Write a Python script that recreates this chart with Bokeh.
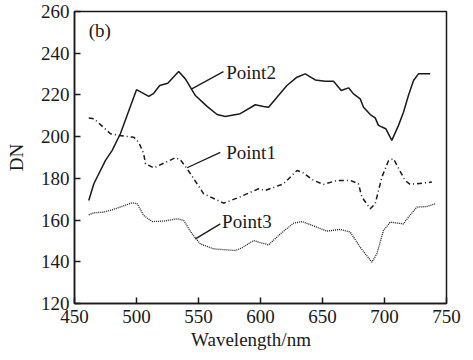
from bokeh.plotting import figure
from bokeh.embed import file_html
from bokeh.resources import INLINE
from bokeh.models import Range1d, FixedTicker
from bokeh.core.properties import value

# Point2 (solid)
p2_x = [461.5, 465.6, 475.0, 480.4, 487.0, 500.0, 509.9, 513.9, 518.7, 525.2, 534.0, 539.4, 547.5,
        556.9, 565.0, 571.6, 583.7, 595.8, 602.5, 606.5, 613.3, 621.3, 629.4, 636.1, 644.1, 652.2,
        658.9, 665.1, 671.0, 675.0, 680.4, 683.1, 688.5, 692.5, 695.1, 701.0, 705.9, 711.3, 715.3,
        719.3, 723.4, 727.4, 736.8]
p2_y = [169.4, 177.4, 188.6, 193.4, 201.4, 222.5, 219.3, 220.8, 224.5, 225.6, 231.2, 227.7, 219.7,
        214.5, 210.6, 209.7, 211.0, 215.3, 214.5, 214.1, 218.9, 224.5, 228.5, 230.1, 227.2, 226.6,
        226.6, 222.1, 223.4, 220.5, 218.1, 214.1, 210.6, 209.0, 205.4, 203.8, 198.2, 205.4, 211.7,
        219.7, 226.9, 230.1, 230.1]

# Point1 (dash-dot)
p1_x = [461.5, 465.6, 479.0, 485.7, 497.8, 501.8, 505.8, 507.2, 513.9, 531.4, 535.4, 540.8, 554.2,
        570.3, 581.0, 598.5, 603.9, 618.6, 629.4, 633.4, 642.8, 650.8, 661.6, 672.4, 679.0, 681.8,
        688.5, 692.5, 697.9, 703.3, 707.2, 716.6, 720.7, 738.2]
p1_y = [208.9, 208.6, 201.4, 200.6, 199.7, 197.3, 191.8, 187.0, 185.0, 189.9, 188.9, 184.6, 172.6,
        168.1, 170.5, 175.0, 174.2, 177.4, 183.8, 183.0, 179.0, 177.1, 179.0, 179.0, 177.4, 171.0,
        165.4, 167.8, 180.6, 188.6, 189.4, 179.0, 177.1, 178.2]

# Point3 (dotted)
p3_x = [461.5, 465.5, 473.6, 483.0, 496.5, 500.5, 505.8, 512.6, 521.9, 532.7, 538.1, 544.8, 551.5,
        562.2, 579.7, 585.1, 594.4, 601.0, 606.5, 616.0, 626.7, 633.4, 644.1, 653.6, 664.3, 672.4,
        680.4, 689.8, 693.8, 699.2, 704.6, 715.3, 719.3, 726.0, 734.1, 740.8]
p3_y = [162.5, 163.5, 163.8, 165.4, 168.3, 167.8, 162.2, 159.3, 159.5, 160.6, 159.8, 153.4, 148.6,
        146.2, 145.4, 146.7, 150.2, 149.0, 148.1, 153.4, 158.5, 159.3, 156.9, 154.7, 155.5, 154.2,
        147.0, 139.8, 143.8, 155.0, 159.0, 158.2, 161.4, 166.2, 166.5, 167.8]

x_ticks = [450, 500, 550, 600, 650, 700, 750]
y_ticks = [120, 140, 160, 180, 200, 220, 240, 260]

labels = ["Point2", "Point1", "Point3"]
label_x = [572.4, 572.4, 569.0]
label_y = [230.8, 192.4, 159.3]
leader_x0 = [544.6, 540.8, 547.5]
leader_y0 = [222.9, 185.1, 151.0]
leader_x1 = [570.1, 567.6, 567.6]
leader_y1 = [231.2, 192.5, 158.2]

FONT = "Liberation Serif"
INK = "#1a1a1a"

p = figure(width=465, height=360, output_backend="svg", toolbar_location=None,
           x_range=Range1d(450, 750), y_range=Range1d(120, 260),
           min_border_left=74, min_border_right=19, min_border_top=11, min_border_bottom=57)
p.xgrid.visible = False
p.ygrid.visible = False
p.background_fill_color = "white"
p.border_fill_color = "white"
p.outline_line_color = INK
p.outline_line_width = 1.5

for ax, ticks in ((p.xaxis[0], x_ticks), (p.yaxis[0], y_ticks)):
    ax.ticker = FixedTicker(ticks=ticks)
    ax.minor_tick_line_color = None
    ax.major_tick_in = 6
    ax.major_tick_out = 0
    ax.major_tick_line_color = INK
    ax.major_tick_line_width = 1.5
    ax.axis_line_color = INK
    ax.axis_line_width = 1.5
    ax.major_label_text_font = FONT
    ax.major_label_text_font_size = "19px"
    ax.major_label_text_color = INK
    ax.axis_label_text_font = FONT
    ax.axis_label_text_font_size = "19px"
    ax.axis_label_text_font_style = "normal"
    ax.axis_label_text_color = INK

# trailing no-break spaces nudge the centred title a little left, as in the reference
p.xaxis.axis_label = "Wavelength/nm" + "\u00a0" * 4
p.yaxis.axis_label = "DN"
p.xaxis.major_label_standoff = 6
p.yaxis.major_label_standoff = 5
p.xaxis.axis_label_standoff = 3
p.yaxis.axis_label_standoff = 11

p.line(p2_x, p2_y, line_color=INK, line_width=1.5)
p.line(p1_x, p1_y, line_color=INK, line_width=1.5, line_dash="5 3 1 3")
p.line(p3_x, p3_y, line_color=INK, line_width=1.3, line_dash="1 1")

p.segment(x0=leader_x0, y0=leader_y0, x1=leader_x1, y1=leader_y1, line_color=INK, line_width=1.3)
p.text(x=label_x, y=label_y, text=labels, text_font=value(FONT), text_font_size="19px",
       text_color=INK, text_align="left", text_baseline="middle")
p.text(x=[461.5], y=[250.9], text=["(b)"], text_font=value(FONT), text_font_size="19px",
       text_color=INK, text_align="left", text_baseline="middle")

open("out.html", "w").write(file_html(p, INLINE))
